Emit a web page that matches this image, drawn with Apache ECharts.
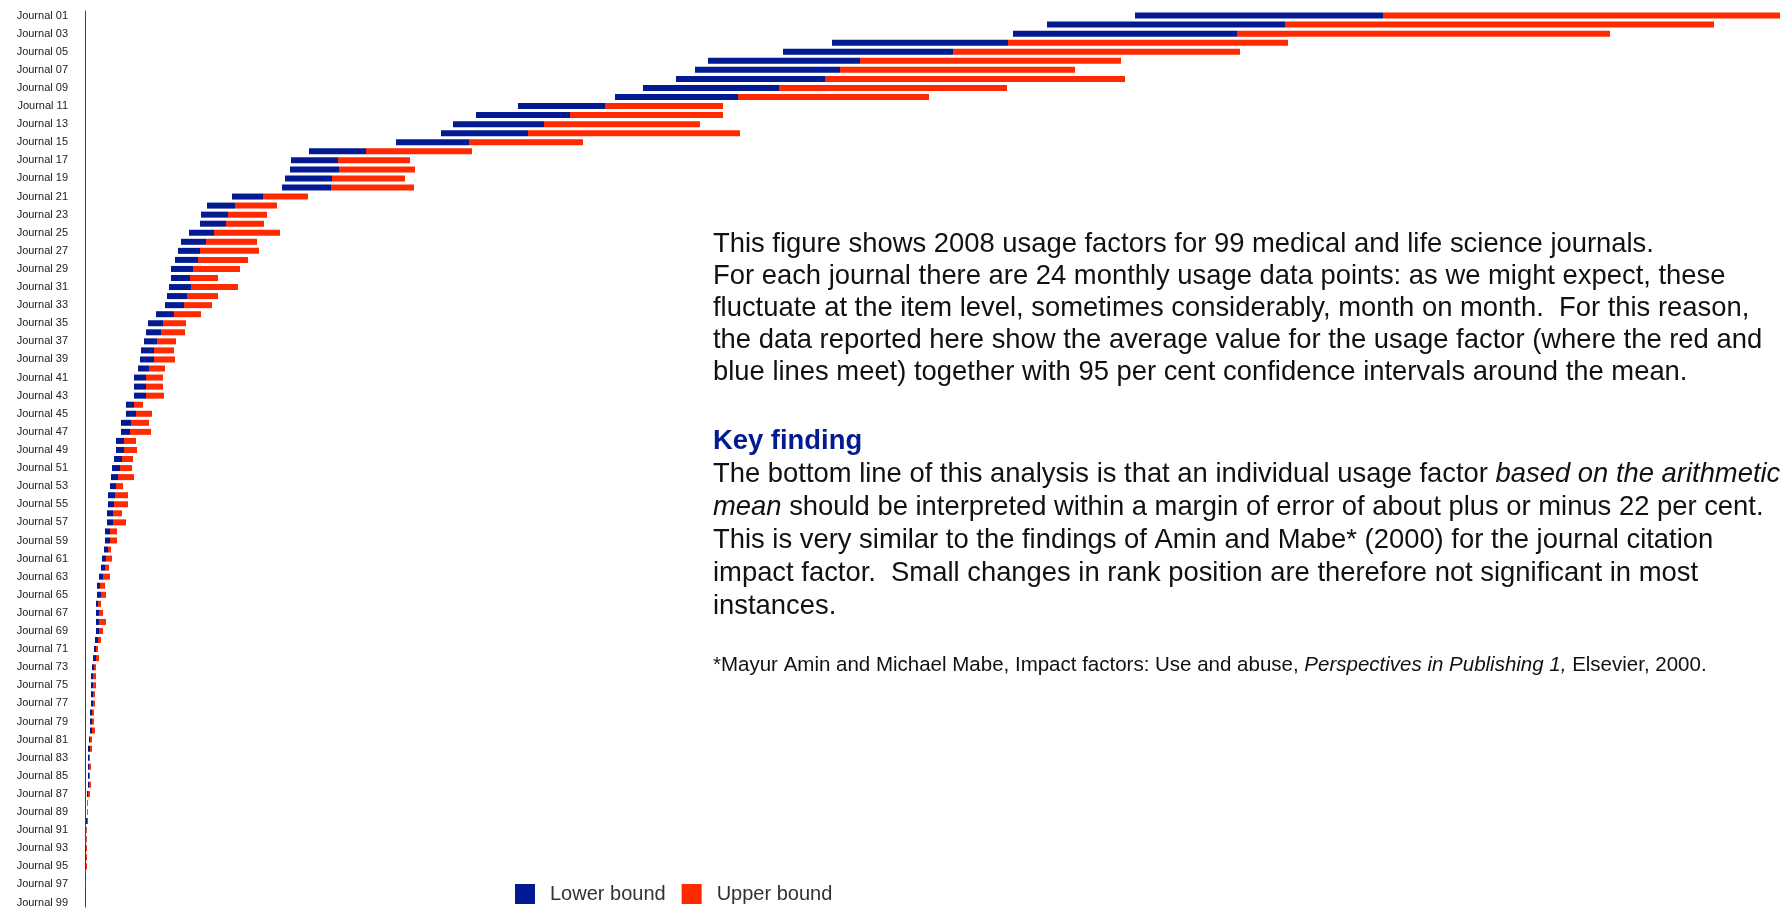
<!DOCTYPE html>
<html>
<head>
<meta charset="utf-8">
<script src="https://cdn.jsdelivr.net/npm/echarts@6/dist/echarts.min.js"></script>
<style>
  html, body { margin: 0; padding: 0; background: #fff; }
  #usage-chart { width: 1780px; height: 908px; }
</style>
</head>
<body>
<div id="usage-chart"></div>
<script>
// journals ranked by 2008 usage factor, 95% CI
const journals = Array.from({ length: 99 }, (_, i) => 'Journal ' + String(i + 1).padStart(2, '0'))

const lowerBound = [
  10.50, 9.62, 9.28, 7.47, 6.98, 6.23, 6.10, 5.91, 5.58, 5.30,
  4.33, 3.91, 3.68, 3.56, 3.11, 2.24, 2.06, 2.05, 2.00, 1.97,
  1.47, 1.22, 1.16, 1.15, 1.04, 0.96, 0.93, 0.90, 0.86, 0.86,
  0.84, 0.82, 0.80, 0.71, 0.63, 0.61, 0.59, 0.56, 0.55, 0.53,
  0.49, 0.49, 0.49, 0.41, 0.41, 0.36, 0.36, 0.31, 0.31, 0.29,
  0.27, 0.26, 0.25, 0.23, 0.23, 0.22, 0.22, 0.20, 0.20, 0.19,
  0.17, 0.16, 0.14, 0.12, 0.12, 0.11, 0.11, 0.11, 0.11, 0.10,
  0.09, 0.08, 0.07, 0.06, 0.06, 0.06, 0.06, 0.05, 0.05, 0.05,
  0.04, 0.03, 0.03, 0.03, 0.03, 0.03, 0.02, 0.02, 0.02, 0.01,
  0.01, 0.01, 0.005, 0.005, 0.005, 0.005, 0, 0, 0
]

const meanValue = [
  12.98, 12.00, 11.52, 9.23, 8.68, 7.75, 7.55, 7.40, 6.94, 6.53,
  5.20, 4.85, 4.59, 4.43, 3.84, 2.81, 2.53, 2.54, 2.47, 2.46,
  1.78, 1.50, 1.43, 1.41, 1.29, 1.21, 1.15, 1.13, 1.08, 1.05,
  1.06, 1.02, 0.99, 0.89, 0.78, 0.76, 0.72, 0.69, 0.69, 0.64,
  0.61, 0.61, 0.61, 0.49, 0.51, 0.46, 0.45, 0.39, 0.39, 0.37,
  0.35, 0.33, 0.31, 0.30, 0.29, 0.28, 0.28, 0.25, 0.25, 0.23,
  0.21, 0.20, 0.18, 0.15, 0.16, 0.13, 0.14, 0.14, 0.14, 0.13,
  0.11, 0.11, 0.09, 0.08, 0.08, 0.08, 0.08, 0.07, 0.07, 0.07,
  0.05, 0.05, 0.04, 0.04, 0.04, 0.04, 0.03, 0.025, 0.025, 0.02,
  0.015, 0.015, 0.01, 0.01, 0.01, 0.008, 0.003, 0.004, 0.004
]

const upperBound = [
  17.40, 16.29, 15.25, 12.03, 11.55, 10.36, 9.90, 10.40, 9.22, 8.44,
  6.38, 6.38, 6.15, 6.55, 4.98, 3.87, 3.25, 3.30, 3.20, 3.29,
  2.23, 1.92, 1.82, 1.79, 1.95, 1.72, 1.74, 1.63, 1.55, 1.33,
  1.53, 1.33, 1.27, 1.16, 1.01, 1.00, 0.91, 0.89, 0.90, 0.80,
  0.78, 0.78, 0.79, 0.58, 0.67, 0.64, 0.66, 0.51, 0.52, 0.48,
  0.47, 0.49, 0.38, 0.43, 0.43, 0.37, 0.41, 0.32, 0.32, 0.26,
  0.27, 0.24, 0.25, 0.20, 0.21, 0.16, 0.18, 0.21, 0.18, 0.16,
  0.13, 0.14, 0.11, 0.11, 0.11, 0.10, 0.10, 0.09, 0.09, 0.10,
  0.07, 0.07, 0.05, 0.06, 0.05, 0.06, 0.05, 0.03, 0.03, 0.03,
  0.02, 0.02, 0.02, 0.02, 0.02, 0.01, 0.007, 0.005, 0.005
]

const legendNames = ['Lower bound', 'Upper bound']

const BLUE = '#021a92'
const RED = '#ff2a00'
const FONT = '"Liberation Sans", Helvetica, Arial, sans-serif'

const para1 = [
  'This figure shows 2008 usage factors for 99 medical and life science journals.',
  'For each journal there are 24 monthly usage data points: as we might expect, these',
  'fluctuate at the item level, sometimes considerably, month on month.  For this reason,',
  'the data reported here show the average value for the usage factor (where the red and',
  'blue lines meet) together with 95 per cent confidence intervals around the mean.'
].join('\n')

const para2 = [
  '{b|Key finding}',
  'The bottom line of this analysis is that an individual usage factor {i|based on the arithmetic}',
  '{i|mean} should be interpreted within a margin of error of about plus or minus 22 per cent.',
  'This is very similar to the findings of Amin and Mabe* (2000) for the journal citation',
  'impact factor.  Small changes in rank position are therefore not significant in most',
  'instances.'
].join('\n')

const footnote = '*Mayur Amin and Michael Mabe, Impact factors: Use and abuse, {i|Perspectives in Publishing 1,} Elsevier, 2000.'

const chart = echarts.init(document.getElementById('usage-chart'))

const baseData = lowerBound.map((v) => v)
const blueData = meanValue.map((v, i) => +(v - lowerBound[i]).toFixed(4))
const redData = upperBound.map((v, i) => +(v - meanValue[i]).toFixed(4))

chart.setOption({
  animation: false,
  grid: { left: 85, right: 0, top: 11, height: 897 },
  legend: {
    data: legendNames,
    left: 515,
    top: 884,
    padding: 0,
    icon: 'rect',
    itemWidth: 20,
    itemHeight: 20,
    itemGap: 16,
    textStyle: { fontFamily: FONT, fontSize: 20, color: '#333', padding: [0, 0, 0, 10] }
  },
  xAxis: {
    type: 'value',
    min: 0,
    max: 16.95,
    axisLine: { show: false },
    axisTick: { show: false },
    axisLabel: { show: false },
    splitLine: { show: false }
  },
  yAxis: {
    type: 'category',
    inverse: true,
    data: journals,
    axisLine: { show: true, lineStyle: { color: '#6e3a1e', width: 1 } },
    axisTick: { show: false },
    axisLabel: { interval: 1, margin: 17, fontFamily: FONT, fontSize: 11, color: '#222' }
  },
  series: [
    {
      name: 'base',
      type: 'bar',
      stack: 'ci',
      barWidth: 6,
      silent: true,
      itemStyle: { color: 'rgba(0,0,0,0)' },
      data: baseData
    },
    {
      name: legendNames[0],
      type: 'bar',
      stack: 'ci',
      barWidth: 6,
      itemStyle: { color: BLUE },
      data: blueData
    },
    {
      name: legendNames[1],
      type: 'bar',
      stack: 'ci',
      barWidth: 6,
      itemStyle: { color: RED },
      data: redData
    }
  ],
  graphic: [
    {
      type: 'text',
      x: 713,
      y: 229,
      style: {
        text: para1,
        font: '27.4px ' + FONT,
        fill: '#111',
        lineHeight: 31.9,
        verticalAlign: 'top'
      }
    },
    {
      type: 'text',
      x: 713,
      y: 425,
      style: {
        text: para2,
        font: '27.4px ' + FONT,
        fill: '#111',
        lineHeight: 33,
        verticalAlign: 'top',
        rich: {
          b: { fontWeight: 'bold', fill: BLUE, fontSize: 27.4, fontFamily: FONT, lineHeight: 33 },
          i: { fontStyle: 'italic', fontSize: 27.4, fontFamily: FONT, fill: '#111', lineHeight: 33 }
        }
      }
    },
    {
      type: 'text',
      x: 713,
      y: 654,
      style: {
        text: footnote,
        font: '20.5px ' + FONT,
        fill: '#111',
        lineHeight: 22,
        verticalAlign: 'top',
        rich: {
          i: { fontStyle: 'italic', fontSize: 20.5, fontFamily: FONT, fill: '#111', lineHeight: 22 }
        }
      }
    }
  ]
})
</script>
</body>
</html>
